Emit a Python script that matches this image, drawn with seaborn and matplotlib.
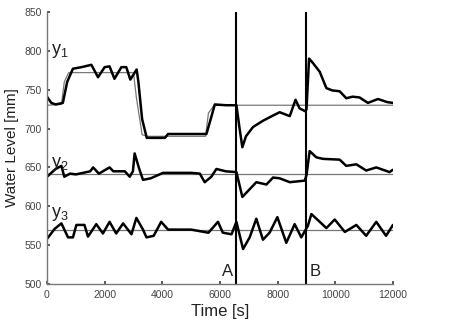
import seaborn as sns
import pandas as pd
import numpy as np
import matplotlib.pyplot as plt

t1 = [0, 150, 300, 550, 700, 900, 1200, 1540, 1770, 2000, 2170, 2340, 2580, 2750, 2890, 3110, 3170, 3300, 3460,
      4090, 4200, 5000, 5530, 5700, 5820, 6200, 6570, 6680, 6776, 6900, 7146, 7490, 7800, 8070, 8420, 8620, 8760,
      8970, 9000, 9090, 9230, 9460, 9690, 9900, 10150, 10380, 10600, 10840, 11130, 11480, 11800, 12000]
y1 = [741, 733, 731, 733, 760, 777, 779, 782, 766, 779, 780, 764, 779, 779, 763, 776, 760, 712, 688,
      688, 693, 693, 693, 715, 731, 730, 730, 700, 676, 690, 702, 710, 716, 721, 716, 737, 726,
      722, 725, 790, 784, 773, 752, 749, 748, 739, 741, 740, 733, 738, 734, 733]

t2 = [0, 300, 500, 600, 800, 1000, 1500, 1600, 1800, 2170, 2300, 2700, 2870, 2980, 3040, 3200, 3330, 3600, 4025,
      5000, 5300, 5470, 5700, 5875, 6200, 6570, 6776, 7030, 7260, 7610, 7840, 8070, 8420, 8940, 9000, 9110,
      9340, 9570, 10150, 10380, 10730, 11070, 11420, 11880, 12000]
y2 = [638, 648, 652, 638, 642, 641, 645, 650, 642, 650, 645, 645, 638, 645, 668, 648, 634, 636, 643,
      643, 642, 631, 638, 648, 645, 644, 612, 622, 631, 628, 637, 636, 631, 633, 640, 671,
      663, 661, 660, 652, 654, 646, 650, 644, 647]

t3 = [0, 267, 500, 730, 900, 1020, 1300, 1422, 1710, 1940, 2170, 2400, 2640, 2930, 3100, 3330, 3450, 3700, 3960,
      4200, 5000, 5297, 5600, 5930, 6100, 6400, 6570, 6800, 7030, 7260, 7490, 7720, 7990, 8300, 8590, 8820,
      9050, 9170, 9690, 9980, 10330, 10730, 11070, 11420, 11760, 12000]
y3 = [558, 571, 578, 560, 560, 576, 576, 561, 577, 565, 580, 565, 578, 564, 585, 570, 560, 562, 580,
      570, 570, 568, 566, 580, 566, 564, 580, 545, 560, 584, 557, 566, 586, 553, 577, 560,
      575, 590, 572, 583, 567, 576, 562, 580, 562, 576]

# set points
r1_t = [0, 500, 600, 750, 3000, 3100, 3300, 3500, 5500, 5600, 5800, 12000]
r1_y = [730, 731, 760, 772, 772, 740, 692, 690, 690, 720, 730, 730]
r2 = 642
r3 = 570

events = {"A": 6570, "B": 9000}

sns.set_theme(style="ticks")
plt.rcParams['font.family'] = ['Liberation Sans', 'DejaVu Sans']
plt.rcParams['mathtext.fontset'] = 'custom'
plt.rcParams['mathtext.rm'] = 'Liberation Sans'
plt.rcParams['mathtext.it'] = 'Liberation Sans'

fig = plt.figure(figsize=(4.68, 3.23), dpi=100)
ax = fig.add_axes([0.1004, 0.1207, 0.7393, 0.8423])

ref = pd.DataFrame({"t": r1_t, "v": r1_y})
sns.lineplot(data=ref, x="t", y="v", color="#777777", lw=0.9, ax=ax)
ax.axhline(r2, color="#777777", lw=0.9)
ax.axhline(r3, color="#777777", lw=0.9)

for t, y in [(t1, y1), (t2, y2), (t3, y3)]:
    df = pd.DataFrame({"t": t, "v": y})
    sns.lineplot(data=df, x="t", y="v", color="black", lw=1.8, ax=ax)

for name, t in events.items():
    ax.axvline(t, color="black", lw=1.5)
ax.text(events["A"] - 100, 507, "A", ha="right", va="bottom", fontsize=12, color="#222222")
ax.text(events["B"] + 100, 507, "B", ha="left", va="bottom", fontsize=12, color="#222222")

ax.text(150, 800, "y$_{1}$", fontsize=13, va="center", color="#222222")
ax.text(150, 655, "y$_{2}$", fontsize=13, va="center", color="#222222")
ax.text(150, 590, "y$_{3}$", fontsize=13, va="center", color="#222222")

ax.set_xlim(0, 12000)
ax.set_ylim(500, 850)
ax.set_xticks(range(0, 12001, 2000))
ax.set_yticks(range(500, 851, 50))
ax.tick_params(direction="in", length=2, labelsize=7.5, colors="#444444", pad=4)
ax.set_xlabel("Time [s]", fontsize=12, color="#222222", labelpad=3)
ax.set_ylabel("Water Level [mm]", fontsize=11, color="#222222", labelpad=4)
sns.despine(ax=ax)
for s in ["left", "bottom"]:
    ax.spines[s].set_color("#777777")
    ax.spines[s].set_linewidth(1.0)

fig.savefig("out.png", dpi=100)
